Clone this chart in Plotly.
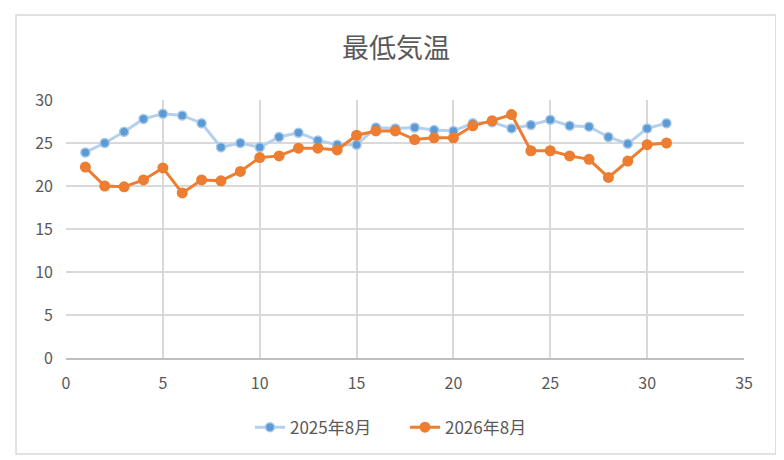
import plotly.graph_objects as go

# 日付 (8月)
days = list(range(1, 32))

# 最低気温 2025年8月
temp_2025 = [23.9, 25.0, 26.3, 27.8, 28.4, 28.2, 27.3, 24.5, 25.0, 24.5,
             25.7, 26.2, 25.3, 24.8, 24.8, 26.8, 26.7, 26.8, 26.5, 26.4,
             27.3, 27.4, 26.7, 27.1, 27.7, 27.0, 26.9, 25.7, 24.9, 26.7,
             27.3]

# 最低気温 2026年8月
temp_2026 = [22.2, 20.0, 19.9, 20.7, 22.1, 19.2, 20.7, 20.6, 21.7, 23.3,
             23.5, 24.4, 24.4, 24.2, 25.9, 26.4, 26.4, 25.4, 25.6, 25.6,
             27.0, 27.6, 28.3, 24.1, 24.1, 23.5, 23.1, 21.0, 22.9, 24.8,
             25.0]

names = ["2025年8月", "2026年8月"]
title = "最低気温"

_FONT = "Noto Sans CJK JP"
_GREY = "#595959"
_GRID = "#d9d9d9"

fig = go.Figure()
fig.add_trace(go.Scatter(
    x=days, y=temp_2025, name=names[0], mode="lines+markers",
    line=dict(color="#b4d0ec", width=3),
    marker=dict(color="#5b9bd5", size=9, line=dict(color="#a9c8e8", width=1.5)),
))
fig.add_trace(go.Scatter(
    x=days, y=temp_2026, name=names[1], mode="lines+markers",
    line=dict(color="#ed7d31", width=3),
    marker=dict(color="#ed7d31", size=11),
))

# ページ余白(8px)の分だけ図を小さくする
fig.update_layout(
    width=776, height=452,
    margin=dict(l=58, r=40, t=92, b=102),
    paper_bgcolor="white", plot_bgcolor="white",
    font=dict(family=_FONT, color=_GREY, size=16),
    title=dict(text=title, x=0.5, xanchor="center", y=0.91, yanchor="middle",
               font=dict(size=27, color=_GREY)),
    showlegend=True,
    legend=dict(orientation="h", x=0.5, xanchor="center", y=-0.2, yanchor="top",
                entrywidth=110, font=dict(size=17, color=_GREY)),
    shapes=[dict(type="rect", xref="paper", yref="paper",
                 x0=-0.0737, x1=1.047, y0=-0.372, y1=1.329,
                 line=dict(color=_GRID, width=1.5), layer="below")],
)
fig.update_xaxes(range=[0, 35], dtick=5, showgrid=True, gridcolor=_GRID, gridwidth=1.5,
                 zeroline=False, showline=True, linecolor="#bfbfbf", linewidth=1.5,
                 ticks="", ticklabelstandoff=10)
fig.update_yaxes(range=[0, 30], dtick=5, showgrid=True, gridcolor=_GRID, gridwidth=1.5,
                 zeroline=False, showline=False, ticks="", ticklabelstandoff=12)

fig.write_html("out.html")
